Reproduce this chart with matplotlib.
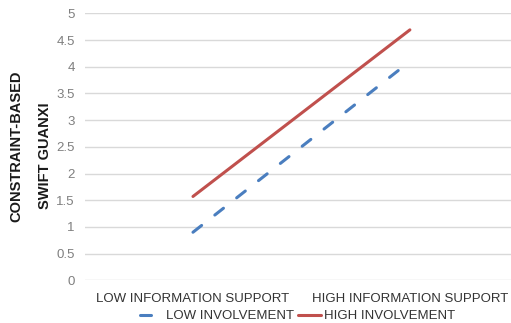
import matplotlib
matplotlib.use("Agg")
import matplotlib.pyplot as plt

plt.rcParams['font.family'] = ['Liberation Sans', 'DejaVu Sans']

categories = ["LOW INFORMATION SUPPORT", "HIGH INFORMATION SUPPORT"]
low_involvement = [0.90, 4.10]
high_involvement = [1.57, 4.69]
series_names = ["LOW INVOLVEMENT", "HIGH INVOLVEMENT"]
y_ticks = [0, 0.5, 1, 1.5, 2, 2.5, 3, 3.5, 4, 4.5, 5]
y_tick_labels = ["0", "0.5", "1", "1.5", "2", "2.5", "3", "3.5", "4", "4.5", "5"]

BLUE = "#4A7EBF"
RED = "#C0504D"

fig = plt.figure(figsize=(5.11, 3.23), dpi=100)
ax = fig.add_axes([0.1654, 0.1322, 0.849, 0.8266])

x = list(range(len(categories)))
l1, = ax.plot(x, low_involvement, color=BLUE, lw=2.2, solid_capstyle='round',
              dash_capstyle='round', label=series_names[0])
l1.set_dashes([3.6, 5.5])
l2, = ax.plot(x, high_involvement, color=RED, lw=2.2, solid_capstyle='round',
              label=series_names[1])

ax.set_xlim(-0.5, 1.5)
ax.set_ylim(0, 5)
ax.set_yticks(y_ticks)
ax.set_yticklabels(y_tick_labels)
ax.set_xticks(x)
ax.set_xticklabels(categories)
ax.tick_params(axis='y', length=0, pad=7, labelsize=9.5, labelcolor="#7f7f7f")
ax.tick_params(axis='x', length=0, pad=9, labelsize=9.5, labelcolor="#333333")
ax.grid(axis='y', color="#d9d9d9", lw=1.0)
ax.set_axisbelow(True)
for s in ax.spines.values():
    s.set_visible(False)

fig.text(16 / 511, 1 - 146.5 / 323, "CONSTRAINT-BASED", rotation=90,
         ha='center', va='center', fontsize=10.5, fontweight='bold', color="#1a1a1a")
fig.text(45 / 511, 1 - 155.5 / 323, "SWIFT GUANXI", rotation=90,
         ha='center', va='center', fontsize=10.5, fontweight='bold', color="#1a1a1a")

fig.legend(handles=[l1, l2], loc='center', bbox_to_anchor=(297.5 / 511, 1 - 316 / 323),
           ncol=2, frameon=False, fontsize=9.5, handlelength=1.75,
           handletextpad=0.25, columnspacing=0.25, borderpad=0, labelcolor="#333333")

fig.savefig("out.png", dpi=100)
